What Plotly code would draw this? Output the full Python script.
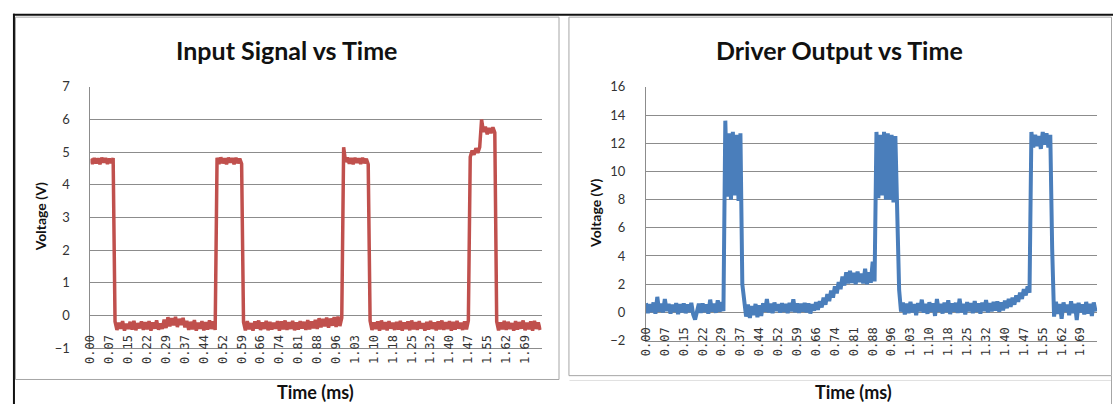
import numpy as np
import plotly.graph_objects as go

W, H = 1113, 412

# Sampling period of the scope capture (ms) and the category labels shown on the time axis
SAMPLE_MS = 0.00735
TIME_LABELS = ["0.00", "0.07", "0.15", "0.22", "0.29", "0.37", "0.44", "0.52",
               "0.59", "0.66", "0.74", "0.81", "0.88", "0.96", "1.03", "1.10",
               "1.18", "1.25", "1.32", "1.40", "1.47", "1.55", "1.62", "1.69"]

# Input signal (V)
input_signal = [
    4.80, 4.64, 4.82, 4.66, 4.81, 4.63, 4.83, 4.68, 4.82, 4.64, 4.80, 4.67, 4.82,
    -0.18, -0.44, -0.22, -0.40, -0.17, -0.46, -0.25, -0.41,
    -0.19, -0.43, -0.16, -0.45, -0.23, -0.39, -0.18, -0.44, -0.20, -0.42,
    -0.17, -0.46, -0.21, -0.40, -0.15, -0.43, -0.24, -0.41, -0.12, -0.38,
    -0.05, -0.33, -0.08, -0.30, -0.04, -0.35, -0.10, -0.29, -0.07, -0.36,
    -0.16, -0.44, -0.19, -0.42, -0.14, -0.46, -0.22, -0.40, -0.17, -0.45,
    -0.20, -0.43, -0.15, -0.41, -0.18, -0.44,
    4.83, 4.64, 4.84, 4.66, 4.81, 4.63, 4.83, 4.68, 4.82, 4.63, 4.83, 4.66, 4.80, 4.64,
    -0.20, -0.45, -0.17, -0.42, -0.23, -0.46, -0.18, -0.40, -0.15, -0.44,
    -0.21, -0.41, -0.16, -0.45, -0.19, -0.43, -0.22, -0.40, -0.17, -0.46,
    -0.18, -0.42, -0.15, -0.44, -0.20, -0.41, -0.16, -0.45, -0.21, -0.43,
    -0.17, -0.40, -0.19, -0.44, -0.14, -0.42, -0.18, -0.39, -0.13, -0.41,
    -0.08, -0.36, -0.10, -0.33, -0.06, -0.37, -0.09, -0.31, -0.05, -0.35, -0.03, -0.32, -0.07,
    5.15, 4.70, 4.84, 4.65, 4.82, 4.63, 4.83, 4.67, 4.81, 4.64, 4.83, 4.66, 4.80, 4.63,
    -0.16, -0.44, -0.21, -0.41, -0.18, -0.46, -0.15, -0.42, -0.20, -0.45,
    -0.17, -0.40, -0.22, -0.44, -0.19, -0.43, -0.16, -0.46, -0.21, -0.41,
    -0.18, -0.45, -0.15, -0.42, -0.20, -0.44, -0.17, -0.40, -0.23, -0.46,
    -0.19, -0.43, -0.16, -0.41, -0.21, -0.45, -0.18, -0.42, -0.15, -0.44,
    -0.20, -0.41, -0.17, -0.46, -0.19, -0.43, -0.16, -0.40, -0.22, -0.44, -0.18, -0.42, -0.15,
    4.85, 5.05, 4.92, 5.12, 4.98, 5.15,
    6.00,
    5.62, 5.78, 5.55, 5.74, 5.58, 5.76, 5.60,
    -0.18, -0.45, -0.21, -0.42, -0.16, -0.44, -0.19, -0.41, -0.23, -0.46, -0.17, -0.43,
    -0.20, -0.40, -0.15, -0.45, -0.22, -0.42, -0.18, -0.46, -0.16, -0.41, -0.21, -0.44,
]

# Driver output (V)
driver_output = [
    0.65, -0.05, 0.58, 0.02, 0.70, -0.10, 1.10, 0.05, 0.62, 0.00,
    0.95, 0.10, 0.60, -0.08, 0.55, 0.04, 0.66, -0.12, 0.59, 0.01,
    0.63, -0.06, 0.57, 0.03, 0.68, -0.15, -0.50, 0.08, 0.61, -0.04,
    0.64, 0.02, 0.56, -0.09, 0.90, 0.05, 0.62, -0.03, 0.85, 0.06, 0.72, 0.10,
    13.6, 8.2, 12.7, 8.0, 12.8, 8.3, 12.6, 7.9, 12.7,
    2.0, 0.9,
    -0.30, 0.55, -0.40, 0.45, -0.20, 0.60, -0.35, 0.50, -0.25, 0.65,
    0.05, 0.95, 0.00, 0.62, -0.05, 0.70, 0.10, 0.58, -0.02, 0.66,
    0.04, 0.60, -0.06, 0.68, 0.08, 0.92, 0.02, 0.64, -0.04, 0.61,
    0.06, 0.67, 0.00, 0.63, -0.08, 0.59, 0.12, 0.72, 0.18, 0.80,
    0.35, 1.05, 0.55, 1.30, 0.80, 1.55, 1.05, 1.85, 1.35, 2.15, 1.65, 2.55, 1.90,
    2.85, 2.05, 2.95, 2.10, 2.80, 2.00, 2.90, 2.15, 2.75, 2.05, 3.10, 2.00, 2.85, 2.10, 3.60, 2.20,
    12.8, 8.1, 12.6, 8.3, 12.8, 8.0, 12.7, 8.0, 12.6, 7.8, 12.5, 7.5,
    1.6,
    0.05, 0.70, -0.15, 0.62, -0.05, 0.75, 0.00, 0.58, -0.20, 0.66,
    0.08, 0.90, -0.02, 0.60, -0.10, 0.72, 0.03, 0.65, -0.25, 0.95,
    0.06, 0.61, -0.08, 0.70, 0.02, 0.85, -0.12, 0.64, 0.05, 0.68,
    -0.04, 0.97, 0.01, 0.60, -0.15, 0.73, 0.07, 0.66, -0.06, 0.80,
    0.04, 0.63, -0.09, 0.69, 0.10, 0.88, 0.00, 0.65, 0.08, 0.74,
    0.12, 0.78, 0.05, 0.70, 0.15, 0.83,
    0.30, 0.95, 0.40, 1.05, 0.55, 1.20, 0.75, 1.40, 0.95, 1.65, 1.20, 1.85, 1.40,
    12.8, 11.7, 12.6, 11.8, 12.5, 11.6, 12.8, 11.9, 12.7, 11.7, 12.6,
    4.5,
    -0.30, 0.75, -0.10, 0.60, -0.45, 0.70, 0.05, 0.55, -0.20, 0.78, -0.05, 0.62,
    -0.55, 0.68, 0.00, 0.57, -0.15, 0.74, -0.08, 0.60, -0.25, 0.70, 0.05,
]

time_in = np.arange(len(input_signal)) * SAMPLE_MS
time_out = np.arange(len(driver_output)) * SAMPLE_MS
tick_pos = [i * 10 * SAMPLE_MS for i in range(len(TIME_LABELS))]

RED = "#C0504D"
BLUE = "#4A7EBB"
GRID = "#8C8C8C"
X_END = 1.755


def px(x):
    return x / W


def py(y):
    return 1 - y / H


fig = go.Figure()
fig.add_trace(go.Scatter(x=time_in, y=input_signal, mode="lines",
                         line=dict(color=RED, width=3.5), xaxis="x", yaxis="y",
                         showlegend=False, hoverinfo="skip"))
fig.add_trace(go.Scatter(x=time_out, y=driver_output, mode="lines",
                         line=dict(color=BLUE, width=4), xaxis="x2", yaxis="y2",
                         showlegend=False, hoverinfo="skip"))

xcommon = dict(range=[0, X_END], tickmode="array", tickvals=tick_pos, ticktext=TIME_LABELS,
               tickangle=-90, showgrid=False, zeroline=False, showline=True,
               linecolor=GRID, linewidth=1, ticks="", ticklabelstandoff=-19,
               tickfont=dict(family="DejaVu Sans Mono", size=12, color="#333333"))
ycommon = dict(showgrid=True, gridcolor=GRID, gridwidth=1, zeroline=False,
               showline=True, linecolor=GRID, linewidth=1, ticks="",
               ticklabelstandoff=17,
               tickfont=dict(family="Lato", size=13, color="#333333"))

fig.update_layout(
    width=W, height=H,
    margin=dict(l=0, r=0, t=0, b=0),
    paper_bgcolor="white", plot_bgcolor="white",
    xaxis=dict(domain=[px(84), px(538)], anchor="y", **xcommon),
    yaxis=dict(domain=[py(354), py(82)], anchor="x", range=[-1, 7], dtick=1, **ycommon),
    xaxis2=dict(domain=[px(643), px(1097)], anchor="y2", **xcommon),
    yaxis2=dict(domain=[py(346), py(82)], anchor="x2", range=[-2, 16], dtick=2, **ycommon),
)

title_font = dict(family="Lato", size=25, color="#111111")
axis_font = dict(family="Lato", size=14, color="#111111")
xt_font = dict(family="Lato", size=18, color="#111111")
notes = [
    dict(text="<b>Input Signal vs Time</b>", x=px(281), y=py(44), font=title_font),
    dict(text="<b>Driver Output vs Time</b>", x=px(838), y=py(44), font=title_font),
    dict(text="<b>Voltage (V)</b>", x=px(34), y=py(217), font=axis_font, textangle=-90),
    dict(text="<b>Voltage (V)</b>", x=px(592), y=py(214), font=axis_font, textangle=-90),
    dict(text="<b>Time (ms)</b>", x=px(310), y=py(400), font=xt_font),
    dict(text="<b>Time (ms)</b>", x=px(852), y=py(400), font=xt_font),
]
for n in notes:
    fig.add_annotation(xref="paper", yref="paper", showarrow=False,
                       xanchor="center", yanchor="middle", **n)

# Panel frames and the outer page border
shapes = [
    dict(type="rect", x0=px(8.5), x1=px(555.5), y0=py(386.5), y1=py(9.5),
         line=dict(color="#A6A6A6", width=1)),
    dict(type="rect", x0=px(565.5), x1=px(1111.5), y0=py(382.5), y1=py(9.5),
         line=dict(color="#A6A6A6", width=1)),
    dict(type="line", x0=px(1111.5), x1=px(1111.5), y0=py(382.5), y1=py(412),
         line=dict(color="#A6A6A6", width=1)),
    dict(type="line", x0=px(566), x1=px(1111), y0=py(387.5), y1=py(387.5),
         line=dict(color="#E0E0E0", width=1)),
    dict(type="line", x0=px(6), x1=px(1113), y0=py(7), y1=py(7),
         line=dict(color="#111111", width=2)),
    dict(type="line", x0=px(7), x1=px(7), y0=py(6), y1=py(412),
         line=dict(color="#111111", width=2)),
]
for s in shapes:
    fig.add_shape(xref="paper", yref="paper", layer="above", **s)

fig.write_html("out.html")
